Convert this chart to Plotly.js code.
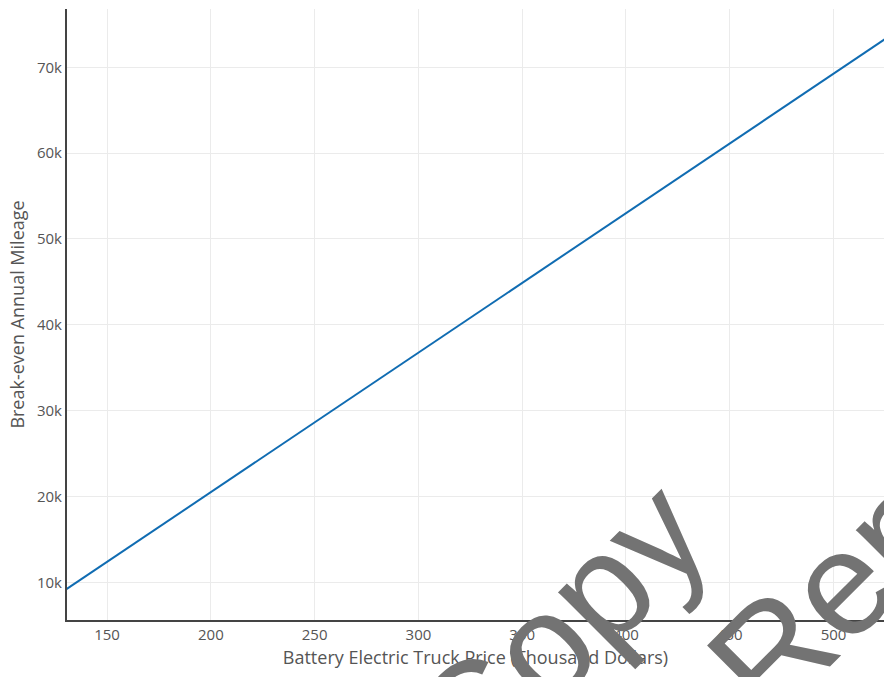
<!DOCTYPE html>
<html>
<head>
<meta charset="utf-8">
<script src="https://cdn.plot.ly/plotly-3.0.1.min.js"></script>
<style>html,body{margin:0;padding:0;background:#fff;overflow:hidden}#chart{width:884px;height:677px}</style>
</head>
<body>
<div id="chart"></div>
<script>
// Battery electric truck price (thousand dollars)
const truckPrice = [130, 150, 200, 250, 300, 350, 400, 450, 500, 530];
// Break-even annual mileage
const breakEvenMileage = [9130, 12380, 20500, 28630, 36750, 44880, 53000, 61130, 69250, 74130];
const xTitle = 'Battery Electric Truck Price (Thousand Dollars)';
const yTitle = 'Break-even Annual Mileage';
const watermarkWords = ['Copy', 'Rep'];

const trace = {
  x: truckPrice,
  y: breakEvenMileage,
  type: 'scatter',
  mode: 'lines',
  line: {color: 'rgb(16,108,178)', width: 2},
  hoverinfo: 'x+y'
};

const FONT = '"Open Sans", sans-serif';

const layout = {
  width: 884,
  height: 677,
  margin: {l: 67, r: 0, t: 9, b: 57},
  paper_bgcolor: '#fff',
  plot_bgcolor: '#fff',
  showlegend: false,
  font: {family: FONT, color: '#555'},
  xaxis: {
    range: [130.7, 524.3],
    tickvals: [150, 200, 250, 300, 350, 400, 450, 500],
    showgrid: true,
    gridcolor: '#ebebeb',
    gridwidth: 1,
    zeroline: false,
    showline: true,
    linecolor: '#444',
    linewidth: 2,
    ticks: '',
    tickfont: {family: FONT, size: 15, color: '#555'},
    title: {text: xTitle, font: {family: FONT, size: 18, color: '#555'}, standoff: 8}
  },
  yaxis: {
    range: [5608, 76793],
    tickvals: [10000, 20000, 30000, 40000, 50000, 60000, 70000],
    ticktext: ['10k', '20k', '30k', '40k', '50k', '60k', '70k'],
    showgrid: true,
    gridcolor: '#ebebeb',
    gridwidth: 1,
    zeroline: false,
    showline: true,
    linecolor: '#444',
    linewidth: 2,
    ticks: '',
    tickfont: {family: FONT, size: 15, color: '#555'},
    title: {text: yTitle, font: {family: FONT, size: 18, color: '#555'}, standoff: 8}
  },
  annotations: [
    {text: watermarkWords[0], xref: 'paper', yref: 'paper', x: 0.602, y: -0.016, xanchor: 'center', yanchor: 'middle',
     showarrow: false, textangle: -45, font: {family: 'Liberation Sans, Arial, sans-serif', size: 148, color: '#737373'}},
    {text: watermarkWords[1], xref: 'paper', yref: 'paper', x: 0.934, y: 0.044, xanchor: 'center', yanchor: 'middle',
     showarrow: false, textangle: -45, font: {family: 'Liberation Sans, Arial, sans-serif', size: 148, color: '#737373'}}
  ]
};

Plotly.newPlot('chart', [trace], layout, {displayModeBar: false, staticPlot: true});
</script>
</body>
</html>
